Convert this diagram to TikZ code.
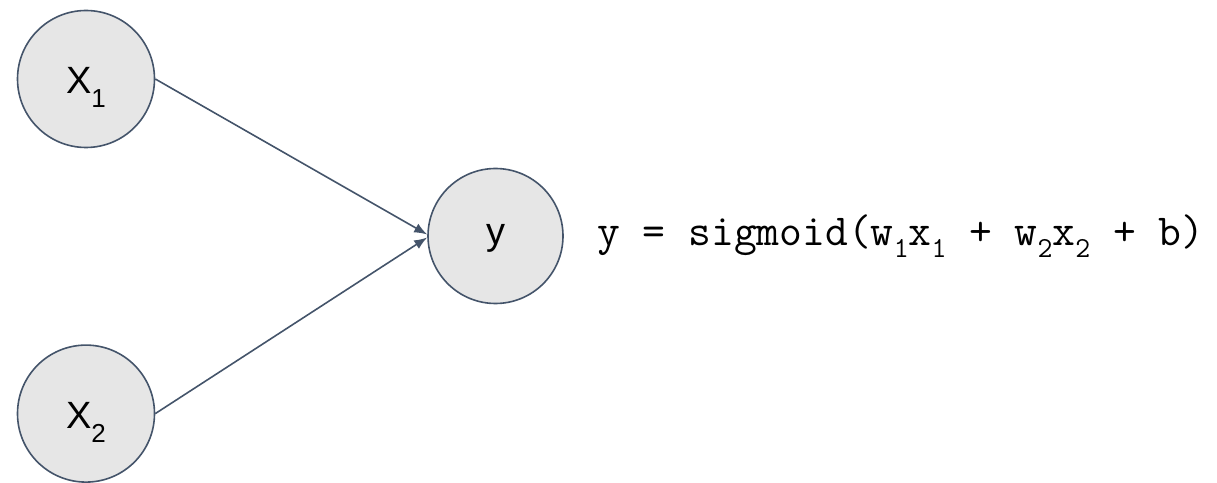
\documentclass[tikz,border=0pt]{standalone}
\usepackage{fontspec}
\setmainfont{Liberation Sans}
\usepackage{xcolor}
\usepackage{tikz}
\usetikzlibrary{arrows.meta, positioning}

\definecolor{edgecol}{HTML}{44546A}
\definecolor{nodefill}{HTML}{E6E6E6}

\newcommand{\lowsub}[3]{\raisebox{-#1}{\fontsize{#2}{#2}\selectfont #3}}

\begin{document}
\begin{tikzpicture}[
  x=1pt, y=1pt,
  neuron/.style={circle, draw=edgecol, fill=nodefill, line width=1.6pt, minimum size=137pt, inner sep=0pt, font=\fontsize{38}{40}\selectfont},
  arrow/.style={-{Latex[length=13pt,width=10pt]}, draw=edgecol, line width=1.6pt}
]
\useasboundingbox (0,0) rectangle (1217,482);
\node[neuron] (x1) at (86,403) {\raisebox{-8pt}[27pt][14pt]{X\lowsub{14pt}{26}{1}}};
\node[neuron, below=196pt of x1] (x2) {\raisebox{-8pt}[27pt][14pt]{X\lowsub{14pt}{26}{2}}};
\node[neuron, minimum size=135pt] (y) at (495.5,246) {\raisebox{-3pt}[20pt][8pt]{y}};
\node[anchor=base west, inner sep=0pt, font=\ttfamily\fontsize{44.3}{45}\selectfont] (formula) at (597,236.5)
  {y = sigmoid(w\lowsub{12pt}{29}{1}x\lowsub{12pt}{29}{1} + w\lowsub{12pt}{29}{2}x\lowsub{12pt}{29}{2} + b)};
\draw[arrow] (x1.east) -- ([yshift=1.5pt]y.west);
\draw[arrow] (x2.east) -- ([yshift=-1.5pt]y.west);
\end{tikzpicture}
\end{document}
